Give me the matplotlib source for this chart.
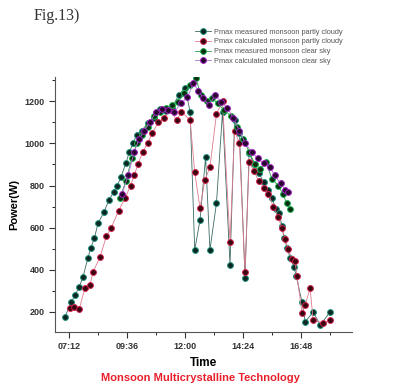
import matplotlib
matplotlib.use("Agg")
import matplotlib.pyplot as plt
from matplotlib.ticker import FuncFormatter, MultipleLocator

plt.rcParams['font.family'] = ['Liberation Sans', 'DejaVu Sans']

# time of day in decimal hours, power in W
t_meas_pc = [7.03, 7.30, 7.45, 7.62, 7.78, 7.98, 8.10, 8.25, 8.40, 8.65, 8.85, 9.05,
             9.20, 9.35, 9.55, 9.70, 9.85, 10.00, 10.20, 10.45, 10.70, 10.95, 11.20,
             11.45, 11.75, 12.00, 12.21, 12.40, 12.62, 12.85, 13.03, 13.30, 13.55,
             13.86, 14.05, 14.25, 14.48, 14.65, 14.85, 15.05, 15.25, 15.45, 15.60,
             15.75, 15.90, 16.00, 16.10, 16.22, 16.35, 16.50, 16.60, 16.84, 16.97,
             17.30, 17.59, 18.00]
p_meas_pc = [176, 247, 280, 318, 366, 455, 503, 550, 620, 675, 730, 770,
             800, 840, 905, 960, 1000, 1040, 1060, 1095, 1120, 1165, 1155,
             1170, 1230, 1265, 1150, 494, 636, 935, 494, 717, 1150,
             423, 1110, 1050, 360, 955, 900, 860, 815, 780, 740,
             690, 670, 610, 550, 505, 455, 415, 370, 245, 153,
             200, 138, 200]

t_calc_pc = [7.24, 7.40, 7.62, 7.86, 8.07, 8.20, 8.48, 8.75, 8.95, 9.25, 9.52, 9.75,
             9.90, 10.05, 10.25, 10.45, 10.65, 10.90, 11.15, 11.40, 11.65, 11.85,
             12.21, 12.40, 12.62, 12.82, 13.03, 13.30, 13.55, 13.86, 14.05, 14.25,
             14.48, 14.65, 14.85, 15.05, 15.25, 15.45, 15.65, 15.85, 16.00, 16.14,
             16.26, 16.43, 16.55, 16.63, 16.84, 16.97, 17.17, 17.30, 17.70, 18.00]
p_calc_pc = [219, 224, 212, 313, 330, 390, 460, 560, 600, 680, 740, 800,
             850, 900, 960, 1000, 1050, 1100, 1120, 1160, 1110, 1150,
             1110, 863, 693, 825, 887, 1140, 1200, 531, 1060, 1000,
             390, 910, 870, 820, 790, 760, 700, 650, 600, 545,
             500, 450, 440, 370, 195, 233, 313, 160, 148, 162]

t_meas_cs = [9.30, 9.55, 9.80, 10.00, 10.20, 10.45, 10.70, 10.95, 11.20, 11.45, 11.70,
             11.95, 12.20, 12.45, 12.65, 12.90, 13.10, 13.35, 13.60, 13.90, 14.15,
             14.40, 14.65, 14.90, 15.10, 15.35, 15.60, 15.85, 16.05, 16.20, 16.34]
p_meas_cs = [740, 820, 930, 1000, 1040, 1080, 1130, 1150, 1170, 1180, 1195,
             1240, 1275, 1310, 1230, 1200, 1215, 1190, 1160, 1130, 1080,
             1020, 960, 900, 880, 910, 830, 800, 760, 715, 690]

t_calc_cs = [9.40, 9.65, 9.90, 10.10, 10.30, 10.55, 10.80, 11.05, 11.30, 11.55, 11.85,
             12.10, 12.35, 12.55, 12.75, 13.00, 13.25, 13.50, 13.75, 14.00, 14.25,
             14.50, 14.75, 15.00, 15.25, 15.50, 15.70, 15.95, 16.15, 16.25]
p_calc_cs = [760, 850, 960, 1020, 1060, 1100, 1150, 1165, 1160, 1150, 1190,
             1220, 1285, 1250, 1215, 1180, 1230, 1195, 1170, 1120, 1060,
             1000, 960, 930, 905, 890, 850, 810, 780, 770]

labels = ['Pmax measured monsoon partly cloudy',
          'Pmax calculated monsoon partly cloudy',
          'Pmax measured monsoon clear sky',
          'Pmax calculated monsoon clear sky']

fig = plt.figure(figsize=(4.04, 3.91), dpi=100)
ax = fig.add_axes([0.136, 0.151, 0.735, 0.652])

# line colour, marker edge, marker face
series = [
    (t_meas_pc, p_meas_pc, '#3a6a62', '#1f8f7a', '#0c2622'),
    (t_calc_pc, p_calc_pc, '#e07a90', '#d0204a', '#3a0612'),
    (t_meas_cs, p_meas_cs, '#2a9a4a', '#20b050', '#082e14'),
    (t_calc_cs, p_calc_cs, '#b070d0', '#a020c0', '#28062e'),
]
for (t, p, lc, ec, fc), lab in zip(series, labels):
    ax.plot(t, p, color=lc, lw=0.6, marker='o', ms=4.2,
            markerfacecolor=fc, markeredgecolor=ec, markeredgewidth=0.7,
            label=lab)

ax.set_xlim(6.62, 18.9)
ax.set_ylim(105, 1315)

def hhmm(x, pos):
    mins = int(round(x * 60))
    return f'{mins // 60:02d}:{mins % 60:02d}'

ax.xaxis.set_minor_locator(MultipleLocator(1.2))
ax.xaxis.set_major_formatter(FuncFormatter(hhmm))
ax.set_xticks([7.2, 9.6, 12.0, 14.4, 16.8])
ax.yaxis.set_minor_locator(MultipleLocator(100))
ax.set_yticks([200, 400, 600, 800, 1000, 1200])

ax.tick_params(which='major', direction='out', length=4, width=0.8,
               labelsize=6.5, colors='#333333')
ax.tick_params(which='minor', direction='out', length=2, width=0.6)
for lbl in ax.get_xticklabels() + ax.get_yticklabels():
    lbl.set_fontweight('bold')

ax.spines['top'].set_visible(False)
ax.spines['right'].set_visible(False)
ax.spines['left'].set_color('#555555')
ax.spines['bottom'].set_color('#555555')

ax.set_xlabel('Time', fontsize=8.5, fontweight='bold', labelpad=4)
ax.set_ylabel('Power(W)', fontsize=8, fontweight='bold', labelpad=4)

fig.text(0.497, 0.033, 'Monsoon Multicrystalline Technology', color='#e8202c',
         fontsize=8, fontweight='bold', ha='center', va='center')
fig.text(0.082, 0.958, 'Fig.13)', family='Liberation Serif', fontsize=11.5,
         ha='left', va='center', color='#333333')

leg = fig.legend(loc='upper left', bbox_to_anchor=(0.47, 0.94), frameon=False,
                 fontsize=5.3, handlelength=2.2, handletextpad=0.4,
                 labelspacing=0.35, borderpad=0.2)
for txt in leg.get_texts():
    txt.set_color('#555555')

fig.savefig('out.png', dpi=100)
